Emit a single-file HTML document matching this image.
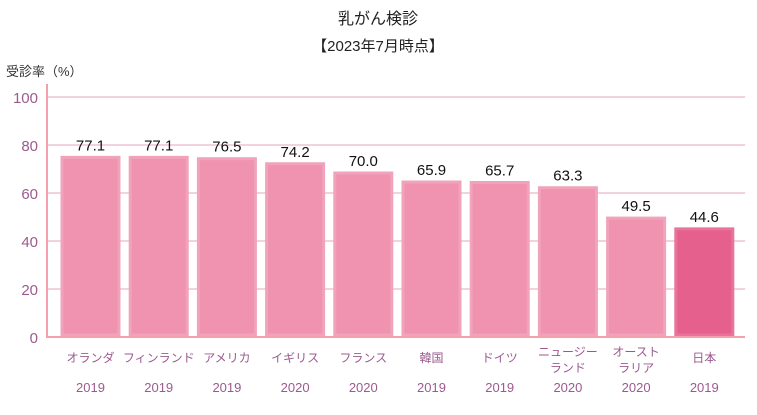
<!DOCTYPE html>
<html><head><meta charset="utf-8"><style>
body{margin:0;background:#fff;width:757px;height:410px;overflow:hidden;font-family:"Liberation Sans","Noto Sans CJK JP",sans-serif}
</style></head><body>
<svg width="757" height="410" id="c">
<text x="378" y="24" text-anchor="middle" font-size="16" fill="#222">乳がん検診</text>
<text x="378" y="51" text-anchor="middle" font-size="15" fill="#222">【2023年7月時点】</text>
<text x="6" y="76" font-size="13" fill="#333">受診率（%）</text>
<line x1="47" y1="84" x2="47" y2="338" stroke="#f4a0ac" stroke-width="2"/>
</svg>
<script>
const categories=["オランダ","フィンランド","アメリカ","イギリス","フランス","韓国","ドイツ","ニュージー|ランド","オースト|ラリア","日本"];
const years=["2019","2019","2019","2020","2020","2019","2019","2020","2020","2019"];
const values=[77.1,77.1,76.5,74.2,70.0,65.9,65.7,63.3,49.5,44.6];
const labels=["77.1","77.1","76.5","74.2","70.0","65.9","65.7","63.3","49.5","44.6"];
const ticks=[0,20,40,60,80,100];
const svg=document.getElementById('c');const NS='http://www.w3.org/2000/svg';
const y=v=>337-v*2.4;const barY=v=>337-(v*2.2+10);const x=i=>62+i*68.2;
function mk(t,a){const e=document.createElementNS(NS,t);for(const k in a)e.setAttribute(k,a[k]);svg.appendChild(e);return e;}
ticks.forEach(t=>{
 if(t>0){const l=mk('line',{x1:48,x2:745,y1:y(t),y2:y(t),stroke:'#f2d2df','stroke-width':2});
 
 }
 const tx=mk('text',{x:38,y:y(t)+6,'text-anchor':'end','font-size':15,fill:'#9b5a8f'});tx.textContent=t;
 
 
});
values.forEach((v,i)=>{
 const jp=i===9;
 const r=mk('rect',{x:x(i),y:barY(v),width:57,height:337-barY(v)-2,fill:jp?'#e5608d':'#ef93b0',stroke:jp?'#ea7399':'#f0a3bb','stroke-width':3});
 
 
 const t=mk('text',{x:x(i)+28.5,y:barY(v)-7,'text-anchor':'middle','font-size':15,fill:'#111'});t.textContent=labels[i];
 
 
 const parts=categories[i].split('|');
 parts.forEach((p,j)=>{const c=mk('text',{x:x(i)+28.5,y:(parts.length>1?356:362)+j*16,'text-anchor':'middle','font-size':12,fill:'#9b5a8f'});c.textContent=p;
 
 });
 const yr=mk('text',{x:x(i)+28.5,y:392,'text-anchor':'middle','font-size':13,fill:'#9b5a8f'});yr.textContent=years[i];
 
 
});
const b=mk('line',{x1:47,x2:745,y1:337,y2:337,stroke:'#f4a0ac','stroke-width':2});


</script>
</body></html>
